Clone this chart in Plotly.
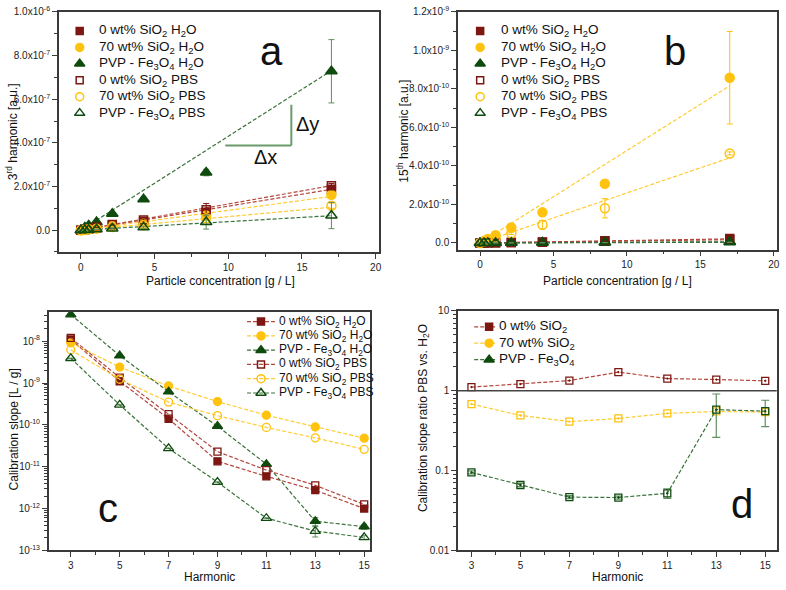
import plotly.graph_objects as go
from plotly.subplots import make_subplots

# particle concentrations [g/L] used in panels a and b
conc = [0, 0.27, 0.53, 1.06, 2.13, 4.25, 8.5, 17]
harmonics = [3, 5, 7, 9, 11, 13, 15]

labels = ["0 wt% SiO<sub>2</sub> H<sub>2</sub>O", "70 wt% SiO<sub>2</sub> H<sub>2</sub>O",
          "PVP - Fe<sub>3</sub>O<sub>4</sub> H<sub>2</sub>O", "0 wt% SiO<sub>2</sub> PBS",
          "70 wt% SiO<sub>2</sub> PBS", "PVP - Fe<sub>3</sub>O<sub>4</sub> PBS"]
ratio_labels = ["0 wt% SiO<sub>2</sub>", "70 wt% SiO<sub>2</sub>", "PVP - Fe<sub>3</sub>O<sub>4</sub>"]

# panel a: 3rd harmonic amplitude
h3_0wt_h2o = [0, 0.3e-8, 0.6e-8, 1.1e-8, 2.3e-8, 4.0e-8, 8.2e-8, 1.87e-7]
h3_70wt_h2o = [0, 0.25e-8, 0.5e-8, 0.9e-8, 1.9e-8, 3.1e-8, 6.7e-8, 1.62e-7]
h3_pvp_h2o = [0, 1.2e-8, 2.2e-8, 3.7e-8, 7.5e-8, 1.42e-7, 2.64e-7, 7.28e-7]
h3_0wt_pbs = [0, 0.35e-8, 0.7e-8, 1.3e-8, 2.6e-8, 4.6e-8, 9.4e-8, 2.04e-7]
h3_70wt_pbs = [0, 0.2e-8, 0.4e-8, 0.7e-8, 1.4e-8, 2.2e-8, 5.5e-8, 1.12e-7]
h3_pvp_pbs = [0, 0.1e-8, 0.2e-8, 0.4e-8, 0.8e-8, 1.3e-8, 3.7e-8, 6.7e-8]
h3_err_0wt_h2o = [0, 0, 0, 0, 0.2e-8, 0.3e-8, 0.6e-8, 1.0e-8]
h3_err_70wt_h2o = [0, 0, 0, 0, 0.2e-8, 0.3e-8, 0.8e-8, 1.5e-8]
h3_err_pvp_h2o = [0, 0.1e-8, 0.2e-8, 0.3e-8, 0.6e-8, 1.0e-8, 1.5e-8, 1.45e-7]
h3_err_0wt_pbs = [0, 0, 0, 0, 0.3e-8, 0.5e-8, 2.8e-8, 1.0e-8]
h3_err_70wt_pbs = [0, 0, 0, 0, 0.2e-8, 0.3e-8, 1.0e-8, 1.2e-8]
h3_err_pvp_pbs = [0, 0, 0, 0, 0.3e-8, 0.5e-8, 3.2e-8, 6.0e-8]

# panel b: 15th harmonic amplitude
h15_0wt_h2o = [0, 0.5e-12, 0.6e-12, 1.0e-12, 2.0e-12, 4.0e-12, 8.5e-12, 1.7e-11]
h15_70wt_h2o = [0, 1.0e-11, 2.0e-11, 4.0e-11, 8.0e-11, 1.59e-10, 3.08e-10, 8.58e-10]
h15_pvp_h2o = [0, 0.3e-12, 0.4e-12, 0.7e-12, 1.2e-12, 2.0e-12, 3.3e-12, 6.4e-12]
h15_0wt_pbs = [0, 0.6e-12, 0.8e-12, 1.4e-12, 2.8e-12, 5.2e-12, 1.1e-11, 2.3e-11]
h15_70wt_pbs = [0, 0.7e-11, 1.3e-11, 2.7e-11, 5.0e-11, 9.5e-11, 1.8e-10, 4.65e-10]
h15_pvp_pbs = [0, 0.2e-12, 0.3e-12, 0.4e-12, 0.8e-12, 1.2e-12, 2.0e-12, 3.6e-12]
h15_err_70wt_h2o = [0, 0, 0, 0.3e-11, 0.6e-11, 1.0e-11, 1.5e-11, 2.4e-10]
h15_err_70wt_pbs = [0, 0, 0, 0.3e-11, 0.6e-11, 2.2e-11, 5.0e-11, 0.8e-11]
h15_err_small = [0, 0, 0, 0, 0, 0, 0, 0]

# panel c: calibration slope [L/g]
slope_0wt_h2o = [1.1e-8, 1.1e-9, 1.4e-10, 1.35e-11, 5.9e-12, 2.75e-12, 1.0e-12]
slope_70wt_h2o = [9.1e-9, 2.4e-9, 8.5e-10, 3.6e-10, 1.7e-10, 8.9e-11, 4.8e-11]
slope_pvp_h2o = [4.3e-8, 4.5e-9, 6.2e-10, 9.3e-11, 1.15e-11, 5.0e-13, 3.7e-13]
slope_0wt_pbs = [1.2e-8, 1.35e-9, 1.8e-10, 2.3e-11, 8.3e-12, 3.6e-12, 1.26e-12]
slope_70wt_pbs = [6.2e-9, 1.23e-9, 3.5e-10, 1.66e-10, 8.7e-11, 4.9e-11, 2.6e-11]
slope_pvp_pbs = [3.9e-9, 3.0e-10, 2.75e-11, 4.3e-12, 5.9e-13, 2.9e-13, 2.05e-13]
slope_err_pvp_h2o = [0, 0, 0, 0, 0, 1.1e-13, 0.5e-13]
slope_err_pvp_pbs = [0, 0, 0, 0, 0, 0.8e-13, 0.2e-13]

# panel d: ratio PBS / H2O
ratio_0wt = [1.11, 1.21, 1.34, 1.71, 1.42, 1.38, 1.33]
ratio_70wt = [0.68, 0.49, 0.41, 0.45, 0.52, 0.55, 0.54]
ratio_pvp = [0.095, 0.066, 0.0465, 0.046, 0.052, 0.58, 0.555]
ratio_err_pvp_up = [0.004, 0.003, 0.002, 0.002, 0.007, 0.33, 0.205]
ratio_err_pvp_dn = [0.004, 0.003, 0.002, 0.002, 0.007, 0.32, 0.2]

RED, RED_L = "#7c1712", "#b4473c"
YEL, YEL_L = "#ffc20e", "#ffcc33"
GRN, GRN_L = "#0f4a0f", "#3a723a"
GRN_E = "#5f8f5f"
FONT = "Arial, Liberation Sans, sans-serif"
AX = "#3a3a3a"
W, H = 786, 590

colors = [RED, YEL, GRN, RED, YEL, GRN]
line_colors = [RED_L, YEL_L, GRN_L, RED_L, YEL_L, GRN_L]
err_colors = [RED, YEL, GRN_E, RED, YEL, GRN_E]
symbols = ["square", "circle", "triangle-up", "square-open", "circle-open", "triangle-up-open"]
sizes = [8, 9, 10, 8, 9, 10]
DASH = "4px,2px"

fig = make_subplots(rows=2, cols=2)

# ---- panel a and b: amplitude vs concentration
panel_ab = [
    (1, 1, [h3_0wt_h2o, h3_70wt_h2o, h3_pvp_h2o, h3_0wt_pbs, h3_70wt_pbs, h3_pvp_pbs],
     [h3_err_0wt_h2o, h3_err_70wt_h2o, h3_err_pvp_h2o, h3_err_0wt_pbs, h3_err_70wt_pbs, h3_err_pvp_pbs], 0),
    (1, 2, [h15_0wt_h2o, h15_70wt_h2o, h15_pvp_h2o, h15_0wt_pbs, h15_70wt_pbs, h15_pvp_pbs],
     [h15_err_small, h15_err_70wt_h2o, h15_err_small, h15_err_small, h15_err_70wt_pbs, h15_err_small], -1),
]
slopes = [slope_0wt_h2o, slope_70wt_h2o, slope_pvp_h2o, slope_0wt_pbs, slope_70wt_pbs, slope_pvp_pbs]

for row, col, series, errs, hidx in panel_ab:
    # linear fits through origin, slope taken from panel c
    fit_x = [0, conc[-1]]
    for i in range(6):
        s = slopes[i][hidx]
        fig.add_trace(go.Scatter(x=fit_x, y=[s * v for v in fit_x], mode="lines",
                                 line=dict(color=line_colors[i], width=1.2, dash=DASH),
                                 showlegend=False, hoverinfo="skip"), row=row, col=col)
    for i in range(6):
        fig.add_trace(go.Scatter(x=conc, y=series[i], mode="markers", name=labels[i], showlegend=False,
                                 marker=dict(symbol=symbols[i], size=sizes[i], color=colors[i],
                                             line=dict(width=1.5, color=colors[i])),
                                 error_y=dict(type="data", array=errs[i], color=err_colors[i],
                                              thickness=1, width=3)),
                      row=row, col=col)

# ---- panel c: calibration slopes
slope_errs = [None, None, slope_err_pvp_h2o, None, None, slope_err_pvp_pbs]
for i in range(6):
    ey = dict(type="data", array=slope_errs[i], color=err_colors[i], thickness=1, width=3) \
        if slope_errs[i] else None
    fig.add_trace(go.Scatter(x=harmonics, y=slopes[i], mode="lines+markers", name=labels[i],
                             showlegend=False,
                             line=dict(color=line_colors[i], width=1.2, dash=DASH),
                             marker=dict(symbol=symbols[i], size=sizes[i] - 1, color=colors[i],
                                         line=dict(width=1.3, color=colors[i])),
                             error_y=ey), row=2, col=1)

# ---- panel d: ratios
ratios = [ratio_0wt, ratio_70wt, ratio_pvp]
for i in range(3):
    ey = dict(type="data", array=ratio_err_pvp_up, arrayminus=ratio_err_pvp_dn, color=GRN_E,
              thickness=1.2, width=4) if i == 2 else None
    fig.add_trace(go.Scatter(x=harmonics, y=ratios[i], mode="lines+markers", showlegend=False,
                             name=ratio_labels[i],
                             line=dict(color=line_colors[i], width=1.2, dash=DASH),
                             marker=dict(symbol="square-open-dot", size=7, color=colors[i],
                                         line=dict(width=1.3, color=colors[i])),
                             error_y=ey), row=2, col=2)

# ---- legends, drawn on a pixel overlay axis so row spacing matches the original
ann = []

def text(x, y, s, size, angle=0, xref="paper", yref="paper", xanchor="center"):
    ann.append(dict(x=x, y=y, xref=xref, yref=yref, text=s, showarrow=False, textangle=angle,
                    xanchor=xanchor, yanchor="middle",
                    font=dict(size=size, family=FONT, color="#111")))

def legend_block(sym_x, text_x, top, step, idx, names, font_size, key=None):
    for r, i in enumerate(idx):
        y = top + r * step
        if key:
            fig.add_trace(go.Scatter(x=[key[0], key[1]], y=[y, y], xaxis="x5", yaxis="y5",
                                     mode="lines", showlegend=False, hoverinfo="skip",
                                     line=dict(color=line_colors[i], width=1.2, dash=DASH)))
        fig.add_trace(go.Scatter(x=[sym_x], y=[y], xaxis="x5", yaxis="y5", mode="markers",
                                 showlegend=False, hoverinfo="skip",
                                 marker=dict(symbol=symbols[i], size=sizes[i] - 1,
                                             color=colors[i], line=dict(width=1.5, color=colors[i]))))
        text(text_x, y, names[r], font_size, xref="x5", yref="y5", xanchor="left")

legend_block(80, 97, 24.5, 16.8, range(6), labels, 13.5)
legend_block(482, 501, 24.5, 16.8, range(6), labels, 13.5)
legend_block(262, 278, 321.7, 14.6, range(6), labels, 12, key=(248, 276))
legend_block(491, 499, 327, 16.8, range(3), ratio_labels, 13.5, key=(476, 497))

common = dict(showline=True, linecolor=AX, linewidth=1.5, mirror=True, ticks="outside",
              ticklen=5, tickwidth=1, tickcolor=AX, showgrid=False, zeroline=False,
              tickfont=dict(size=10, color="#222", family=FONT))

def sci(v, e):
    return f"{v:.1f}x10<sup>{e}</sup>"

fig.update_xaxes(**common)
fig.update_yaxes(**common)

minor_c = [k * 10.0 ** e for e in range(-13, -7) for k in range(2, 10) if k * 10.0 ** e < 5e-8]
minor_d = [k * 10.0 ** e for e in range(-2, 1) for k in range(2, 10)]

fig.update_layout(
    xaxis=dict(domain=[0.0751, 0.4835], range=[-1.5, 20.2], dtick=5, tick0=0,
               minor=dict(dtick=2.5, tick0=0, ticks="outside", ticklen=3, tickcolor=AX)),
    yaxis=dict(domain=[0.5754, 0.9915], range=[-1e-7, 1e-6],
               tickvals=[0, 2e-7, 4e-7, 6e-7, 8e-7, 1e-6],
               ticktext=["0.0", sci(2, -7), sci(4, -7), sci(6, -7), sci(8, -7), sci(1, -6)],
               minor=dict(dtick=1e-7, tick0=0, ticks="outside", ticklen=3, tickcolor=AX)),
    xaxis2=dict(domain=[0.5849, 0.9920], range=[-1.5, 20.2], dtick=5, tick0=0,
                minor=dict(dtick=2.5, tick0=0, ticks="outside", ticklen=3, tickcolor=AX)),
    yaxis2=dict(domain=[0.5797, 0.9915], range=[-0.034e-9, 1.2e-9],
                tickvals=[0, 2e-10, 4e-10, 6e-10, 8e-10, 1e-9, 1.2e-9],
                ticktext=["0.0", sci(2, -10), sci(4, -10), sci(6, -10), sci(8, -10),
                          sci(1, -9), sci(1.2, -9)],
                minor=dict(dtick=1e-10, tick0=0, ticks="outside", ticklen=3, tickcolor=AX)),
    xaxis3=dict(domain=[0.0623, 0.4729], range=[2.1, 15.25], dtick=2, tick0=3,
                minor=dict(dtick=1, tick0=3, ticks="outside", ticklen=3, tickcolor=AX)),
    yaxis3=dict(domain=[0.0581, 0.4717], type="log", range=[-13, -7.3],
                tickvals=[1e-13, 1e-12, 1e-11, 1e-10, 1e-9, 1e-8],
                ticktext=[f"10<sup>{e}</sup>" for e in [-13, -12, -11, -10, -9, -8]],
                minor=dict(tickmode="array", tickvals=minor_c, ticks="outside", ticklen=3,
                           tickcolor=AX)),
    xaxis4=dict(domain=[0.5849, 0.9920], range=[2.45, 15.47], dtick=2, tick0=3,
                minor=dict(dtick=1, tick0=3, ticks="outside", ticklen=3, tickcolor=AX)),
    yaxis4=dict(domain=[0.0581, 0.4734], type="log", range=[-2, 1],
                tickvals=[0.01, 0.1, 1, 10], ticktext=["0.01", "0.1", "1", "10"],
                minor=dict(tickmode="array", tickvals=minor_d, ticks="outside", ticklen=3,
                           tickcolor=AX)),
    # overlay in pixel units used for the legend keys
    xaxis5=dict(domain=[0, 1], range=[0, W], visible=False, fixedrange=True, anchor="y5"),
    yaxis5=dict(domain=[0, 1], range=[H, 0], visible=False, fixedrange=True, anchor="x5"),
)

# horizontal reference line at ratio = 1
fig.add_shape(type="line", xref="x4 domain", yref="y4", x0=0, x1=1, y0=1, y1=1,
              line=dict(color="#444", width=1.5))
# slope triangle in panel a
fig.add_shape(type="line", xref="x", yref="y", x0=9.8, x1=14.28, y0=3.88e-7, y1=3.88e-7,
              line=dict(color="#6b9a6b", width=2))
fig.add_shape(type="line", xref="x", yref="y", x0=14.28, x1=14.28, y0=3.88e-7, y1=5.75e-7,
              line=dict(color="#6b9a6b", width=2))

text(15.4, 4.85e-7, "Δy", 20, xref="x", yref="y")
text(12.5, 3.33e-7, "Δx", 20, xref="x", yref="y")
text(273 / W, 1 - 45 / H, "a", 40)
text(678 / W, 1 - 45 / H, "b", 40)
text(108 / W, 1 - 512 / H, "c", 40)
text(745 / W, 1 - 508 / H, "d", 40)
text(221 / W, 1 - 280 / H, "Particle concentration [g / L]", 12)
text(620 / W, 1 - 280 / H, "Particle concentration [g / L]", 12)
text(210 / W, 1 - 583 / H, "Harmonic", 12)
text(620 / W, 1 - 583 / H, "Harmonic", 12)
text(12 / W, 1 - 127 / H, "3<sup>rd</sup> harmonic [a.u.]", 12, -90)
text(405 / W, 1 - 127 / H, "15<sup>th</sup> harmonic [a.u.]", 12, -90)
text(15 / W, 1 - 432 / H, "Calibration slope [L / g]", 12, -90)
text(425 / W, 1 - 420 / H, "Calibration slope ratio PBS vs. H<sub>2</sub>O", 12, -90)

fig.update_layout(width=W, height=H, margin=dict(l=0, r=0, t=0, b=0), showlegend=False,
                  paper_bgcolor="white", plot_bgcolor="rgba(0,0,0,0)",
                  font=dict(family=FONT, color="#111"), annotations=ann)

# the page body has a default 8px margin; drop it so the figure sits at the window origin
fig.write_html("out.html", config={"displayModeBar": False},
               post_script="document.body.style.margin='0';")
